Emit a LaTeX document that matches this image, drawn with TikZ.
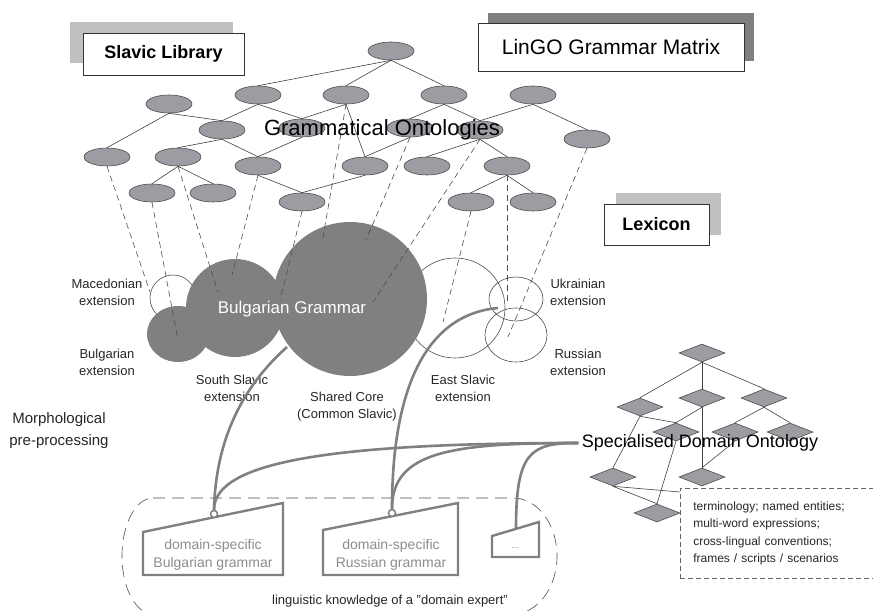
\documentclass[tikz,border=0pt]{standalone}
\usepackage{fontspec}
\setmainfont{Liberation Sans}
\usetikzlibrary{shapes.geometric}
\definecolor{ontgray}{RGB}{156,156,162}
\definecolor{coregray}{RGB}{128,128,128}
\definecolor{linkgray}{RGB}{128,128,128}
\definecolor{shadelight}{RGB}{192,192,192}
\definecolor{shadedark}{RGB}{128,128,128}
\tikzset{
  ont/.style={ellipse, draw=black!70, fill=ontgray, line width=0.6pt, minimum width=46pt, minimum height=18pt, inner sep=0pt},
  dom/.style={diamond, draw=black!70, fill=ontgray, line width=0.6pt, minimum width=46pt, minimum height=18pt, inner sep=0pt},
  isa/.style={line width=0.6pt, black!75},
  proj/.style={line width=0.6pt, black!70, dash pattern=on 6pt off 4pt},
  ext/.style={font=\fontsize{13}{17}\selectfont, align=center, text=black!85},
  titlebox/.style={draw=black!80, fill=white, line width=0.8pt},
  link/.style={line width=2.6pt, linkgray},
  gram/.style={draw=linkgray, line width=2.4pt, line join=miter},
  gramtext/.style={font=\fontsize{14}{18}\selectfont, align=center, text=black!45},
  knob/.style={circle, draw=linkgray, fill=white, line width=1.5pt, minimum size=7pt, inner sep=0pt},
}

\begin{document}
\begin{tikzpicture}[x=1pt,y=-1pt]
\useasboundingbox (0,0) rectangle (873,612);

\fill[shadelight] (70,22) rectangle (233,63);
\node[titlebox, minimum width=161pt, minimum height=42pt, font=\bfseries\fontsize{18}{20}\selectfont] (slavic) at (163.5,54) {Slavic Library};
\fill[shadedark] (488,13) rectangle (754,61);
\node[titlebox, minimum width=266pt, minimum height=48pt, font=\fontsize{21}{24}\selectfont] (lingo) at (611,47) {LinGO Grammar Matrix};
\fill[shadelight] (616,193) rectangle (721,235);
\node[titlebox, minimum width=105pt, minimum height=41pt, font=\bfseries\fontsize{18}{20}\selectfont] (lexicon) at (656.5,224.5) {Lexicon};

\draw[black!70, line width=0.6pt] (173,298) circle[radius=23pt];
\draw[black!70, line width=0.6pt] (455,308) circle[radius=50pt];
\draw[black!70, line width=0.6pt] (516,299) ellipse[x radius=27pt, y radius=22pt];
\draw[black!70, line width=0.6pt] (516,335) ellipse[x radius=31pt, y radius=27pt];
\fill[coregray] (178,334) ellipse[x radius=31pt, y radius=28pt];
\fill[coregray] (235,308) circle[radius=49pt];
\fill[coregray] (350,299) circle[radius=77pt];

\node[ont] (e1) at (391,51) {};
\node[ont] (e2) at (258,95) {};
\node[ont] (e3) at (346,95) {};
\node[ont] (e4) at (444,95) {};
\node[ont] (e5) at (533,95) {};
\node[ont] (e6) at (169,104) {};
\node[ont] (e7) at (222,130) {};
\node[ont] (e8) at (302,128) {};
\node[ont] (e9) at (410,128) {};
\node[ont] (e10) at (480,130) {};
\node[ont] (e11) at (587,139) {};
\node[ont] (e12) at (107,157) {};
\node[ont] (e13) at (178,157) {};
\node[ont] (e14) at (258,166) {};
\node[ont] (e15) at (365,166) {};
\node[ont] (e16) at (427,166) {};
\node[ont] (e17) at (507,166) {};
\node[ont] (e18) at (152,193) {};
\node[ont] (e19) at (213,193) {};
\node[ont] (e20) at (302,202) {};
\node[ont] (e21) at (471,202) {};
\node[ont] (e22) at (533,202) {};

\draw[isa] (e1.south) -- (e2.north);
\draw[isa] (e1.south) -- (e3.north);
\draw[isa] (e1.south) -- (e4.north);
\draw[isa] (e2.south) -- (e7.north);
\draw[isa] (e2.south) -- (e8.north);
\draw[isa] (e3.south) -- (e8.north);
\draw[isa] (e3.south) -- (e15.north);
\draw[isa] (e4.south) -- (e9.north);
\draw[isa] (e4.south) -- (e10.north);
\draw[isa] (e5.south) -- (e10.north);
\draw[isa] (e5.south) -- (e11.north);
\draw[isa] (e6.south) -- (e7.north);
\draw[isa] (e6.south) -- (e12.north);
\draw[isa] (e7.south) -- (e13.north);
\draw[isa] (e7.south) -- (e14.north);
\draw[isa] (e8.south) -- (e14.north);
\draw[isa] (e9.south) -- (e15.north);
\draw[isa] (e10.south) -- (e16.north);
\draw[isa] (e10.south) -- (e17.north);
\draw[isa] (e13.south) -- (e18.north);
\draw[isa] (e13.south) -- (e19.north);
\draw[isa] (e14.south) -- (e20.north);
\draw[isa] (e15.south) -- (e20.north);
\draw[isa] (e17.south) -- (e21.north);
\draw[isa] (e17.south) -- (e22.north);

\coordinate (mk) at (150,292);
\coordinate (bgx) at (178,340);
\coordinate (ss1) at (218,292);
\coordinate (ss2) at (232,275);
\coordinate (core1) at (280,300);
\coordinate (core2) at (322,243);
\coordinate (core3) at (366,240);
\coordinate (core4) at (373,302);
\coordinate (es) at (443,322);
\coordinate (ua) at (507,302);
\coordinate (ru) at (508,337);
\draw[proj] (e12.south) -- (mk);
\draw[proj] (e18.south) -- (bgx);
\draw[proj] (e13.south) -- (ss1);
\draw[proj] (e14.south) -- (ss2);
\draw[proj] (e20.south) -- (core1);
\draw[proj] (e3.south) -- (core2);
\draw[proj] (e9.south) -- (core3);
\draw[proj] (e10.south) -- (core4);
\draw[proj] (e21.south) -- (es);
\draw[proj] (e17.south) -- (ua);
\draw[proj] (e11.south) -- (ru);

\node[font=\fontsize{22}{24}\selectfont] (gontol) at (382,130) {Grammatical Ontologies};

\node[ext] (mklabel) at (107,292) {Macedonian\\extension};
\node[ext] (bglabel) at (107,362) {Bulgarian\\extension};
\node[ext] (sslabel) at (232,388) {South Slavic\\extension};
\node[ext] (corelabel) at (347,407) {Shared Core\\(Common Slavic)};
\node[ext] (eslabel) at (463,388) {East Slavic\\extension};
\node[ext] (ualabel) at (578,292) {Ukrainian\\extension};
\node[ext] (rulabel) at (578,362) {Russian\\extension};
\node[font=\fontsize{15}{22}\selectfont, align=center, text=black!85] (morph) at (59,431) {Morphological\\pre-processing};
\node[text=white, font=\fontsize{17}{20}\selectfont] (bggram) at (292,309) {Bulgarian Grammar};

\node[dom] (d1) at (702,353) {};
\node[dom] (d2) at (640,407) {};
\node[dom] (d3) at (702,398) {};
\node[dom] (d4) at (764,398) {};
\node[dom] (d5) at (676,432) {};
\node[dom] (d6) at (735,432) {};
\node[dom] (d7) at (790,432) {};
\node[dom] (d8) at (613,477) {};
\node[dom] (d9) at (702,477) {};
\node[dom] (d10) at (657,513) {};
\node[draw=black!60, dash pattern=on 5pt off 3pt, line width=0.6pt, anchor=north west, minimum width=200pt, minimum height=90pt, inner xsep=13pt, text width=174pt, align=left, font=\fontsize{12}{17.5}\selectfont, text=black!85] (terms) at (680,488)
  {terminology; named entities;\\multi-word expressions;\\cross-lingual conventions;\\frames / scripts / scenarios};
\draw[isa] (d1.south) -- (d2.north);
\draw[isa] (d1.south) -- (d3.north);
\draw[isa] (d1.south) -- (d4.north);
\draw[isa] (d2.south) -- (d5.north);
\draw[isa] (d2.south) -- (d8.north);
\draw[isa] (d3.south) -- (d5.north);
\draw[isa] (d3.south) -- (d9.north);
\draw[isa] (d4.south) -- (d6.north);
\draw[isa] (d4.south) -- (d7.north);
\draw[isa] (d6.south) -- (d9.north);
\draw[isa] (d5.south) -- (d10.north);
\draw[isa] (d8.south) -- (d10.north);
\draw[isa] (d8.south) -- ([yshift=-4pt]terms.north west);
\node[font=\fontsize{18}{20}\selectfont] (sdo) at (700,443) {Specialised Domain Ontology};

\draw[black!70, line width=0.6pt, dash pattern=on 12pt off 7pt]
  (153,498) -- (513,498) arc[start angle=90, end angle=-90, x radius=44pt, y radius=58pt]
  -- (153,614) arc[start angle=270, end angle=90, x radius=31pt, y radius=58pt] -- cycle;
\node[font=\fontsize{13}{15}\selectfont, text=black!85] (expert) at (390,601) {linguistic knowledge of a "domain expert"};

\draw[gram] (143,532) -- (283,503) -- (283,575) -- (143,575) -- cycle;
\node[gramtext] (bgdom) at (213,555) {domain-specific\\Bulgarian grammar};
\draw[gram] (323,530) -- (458,503) -- (458,575) -- (323,575) -- cycle;
\node[gramtext] (rudom) at (391,555) {domain-specific\\Russian grammar};
\draw[gram] (492,536) -- (539,522) -- (539,557) -- (492,557) -- cycle;
\node[gramtext, font=\fontsize{9}{10}\selectfont] (moredom) at (515,548) {...};

\node[knob] (bgknob) at (214,514) {};
\node[knob] (ruknob) at (392,513) {};
\coordinate (moretop) at (516,529);
\coordinate (bgjoin) at (287,347);
\coordinate (rujoin) at (498,308);
\draw[link] (bgknob.north) .. controls (216,430) and (250,380) .. (bgjoin);
\draw[link] (ruknob.north) .. controls (392,400) and (420,315) .. (rujoin);
\draw[link] (sdo.west) .. controls (330,443) and (214,462) .. (bgknob.north);
\draw[link] (sdo.west) .. controls (450,443) and (392,452) .. (ruknob.north);
\draw[link] (sdo.west) .. controls (530,443) and (516,452) .. (moretop);
\end{tikzpicture}
\end{document}
